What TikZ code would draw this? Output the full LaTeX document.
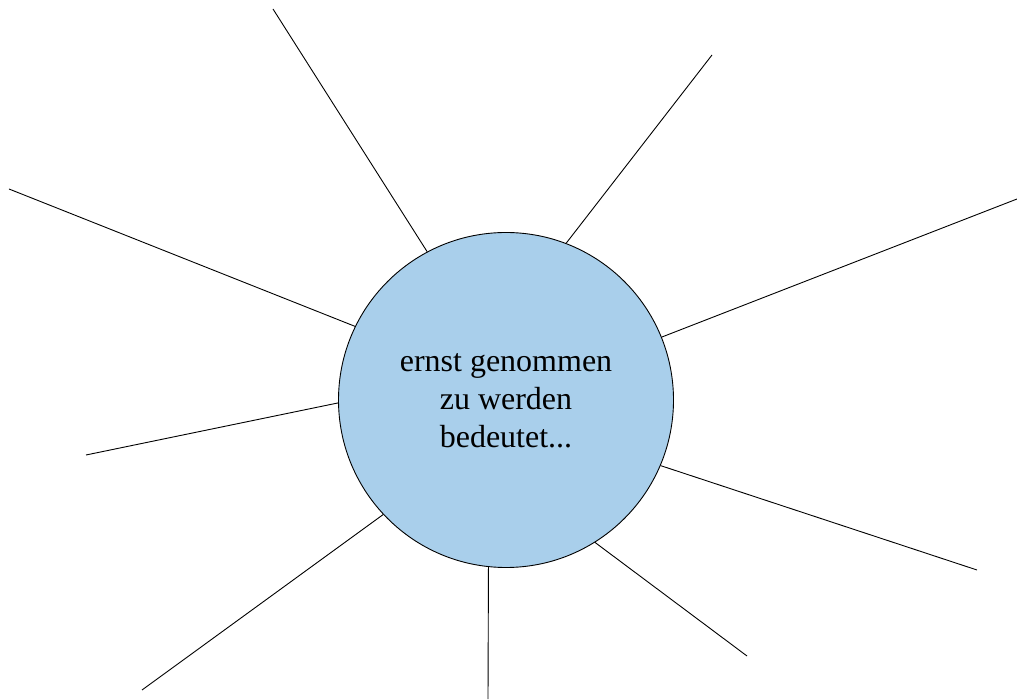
\documentclass[tikz,border=0pt]{standalone}
\usepackage{fontspec}
\setmainfont{Liberation Serif}
\definecolor{bubble}{RGB}{169,207,235}
\begin{document}
\begin{tikzpicture}[x=1pt,y=1pt,
  hub/.style={circle,draw=black,line width=0.9pt,fill=bubble,minimum size=335pt,inner sep=0pt},
  ray/.style={draw=black,line width=0.9pt},
  label/.style={align=center,font=\fontsize{32}{38}\selectfont,inner sep=0pt}]
\useasboundingbox (0,0) rectangle (1017,699);
\node[hub] (c) at (506,299) {};
\node[label,anchor=base] (t) at (506,251) {ernst genommen\\zu werden\\bedeutet...};
\coordinate (o1) at (273,690);
\coordinate (o2) at (712,644);
\coordinate (o3) at (9,510);
\coordinate (o4) at (1017,500);
\coordinate (o5) at (86,244);
\coordinate (o6) at (977,129);
\coordinate (o7) at (142,9);
\coordinate (o8) at (488,0);
\coordinate (o9) at (747,43);
\draw[ray] (c.118) -- (o1);
\draw[ray] (c.69) -- (o2);
\draw[ray] (c.154.6) -- (o3);
\draw[ray] (c.22.8) -- (o4);
\draw[ray] (c.181.7) -- (o5);
\draw[ray] (c.-23.1) -- (o6);
\draw[ray] (c.223.1) -- (o7);
\draw[ray] (c.264.5) -- (o8);
\draw[ray] (c.302.2) -- (o9);
\end{tikzpicture}
\end{document}
